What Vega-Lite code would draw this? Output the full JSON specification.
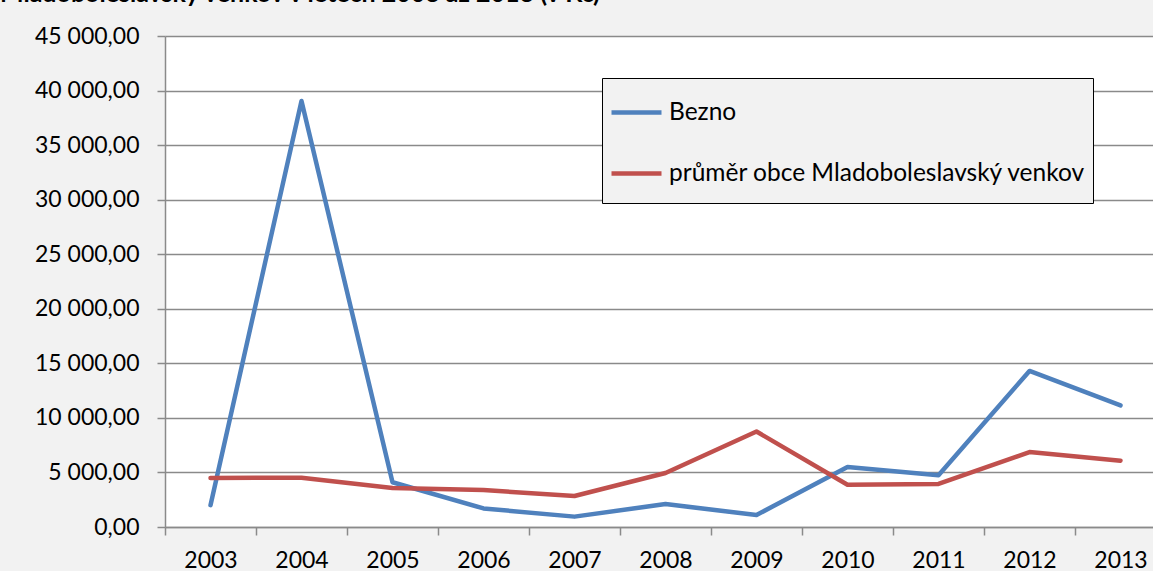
{
  "$schema": "https://vega.github.io/schema/vega-lite/v6.json",
  "autosize": {"type": "none"},
  "padding": {"left": 165, "top": 36, "right": 0, "bottom": 44},
  "width": 988,
  "height": 491,
  "background": "#f2f2f2",
  "title": {
    "text": "Mladoboleslavský venkov v letech 2003 až 2013 (v Kč)",
    "anchor": "start",
    "frame": "group",
    "orient": "top",
    "baseline": "alphabetic",
    "offset": 0,
    "dx": -165,
    "dy": 2,
    "font": "Lato",
    "fontSize": 25,
    "fontWeight": "bold",
    "color": "black"
  },
  "config": {
    "locale": {
      "number": {"decimal": ",", "thousands": " ", "grouping": [3], "currency": ["", " Kč"]}
    },
    "view": {"fill": "white", "stroke": null},
    "axis": {
      "labelFont": "Lato",
      "labelFontSize": 23,
      "labelColor": "black",
      "domainColor": "#8a8a8a",
      "domainWidth": 1.5,
      "tickColor": "#8a8a8a",
      "tickWidth": 1.5,
      "tickSize": 8,
      "gridColor": "#8a8a8a",
      "gridWidth": 1.5,
      "title": null
    }
  },
  "data": {
    "values": [
      {"year": "2003", "series": "Bezno", "value": 2000},
      {"year": "2004", "series": "Bezno", "value": 39050},
      {"year": "2005", "series": "Bezno", "value": 4100},
      {"year": "2006", "series": "Bezno", "value": 1700},
      {"year": "2007", "series": "Bezno", "value": 950},
      {"year": "2008", "series": "Bezno", "value": 2100},
      {"year": "2009", "series": "Bezno", "value": 1100},
      {"year": "2010", "series": "Bezno", "value": 5500},
      {"year": "2011", "series": "Bezno", "value": 4750},
      {"year": "2012", "series": "Bezno", "value": 14300},
      {"year": "2013", "series": "Bezno", "value": 11150},
      {"year": "2003", "series": "průměr obce Mladoboleslavský venkov", "value": 4500},
      {"year": "2004", "series": "průměr obce Mladoboleslavský venkov", "value": 4520},
      {"year": "2005", "series": "průměr obce Mladoboleslavský venkov", "value": 3570},
      {"year": "2006", "series": "průměr obce Mladoboleslavský venkov", "value": 3380},
      {"year": "2007", "series": "průměr obce Mladoboleslavský venkov", "value": 2840},
      {"year": "2008", "series": "průměr obce Mladoboleslavský venkov", "value": 4950},
      {"year": "2009", "series": "průměr obce Mladoboleslavský venkov", "value": 8750},
      {"year": "2010", "series": "průměr obce Mladoboleslavský venkov", "value": 3870},
      {"year": "2011", "series": "průměr obce Mladoboleslavský venkov", "value": 3950},
      {"year": "2012", "series": "průměr obce Mladoboleslavský venkov", "value": 6870},
      {"year": "2013", "series": "průměr obce Mladoboleslavský venkov", "value": 6080}
    ]
  },
  "mark": {"type": "line", "strokeWidth": 4.5, "strokeCap": "round", "strokeJoin": "round"},
  "encoding": {
    "x": {
      "field": "year",
      "type": "ordinal",
      "scale": {"type": "band", "paddingInner": 0, "paddingOuter": 0, "range": [0, 1001]},
      "axis": {"labelAngle": 0, "tickBand": "extent", "grid": false, "labelPadding": 14}
    },
    "y": {
      "field": "value",
      "type": "quantitative",
      "scale": {"domain": [0, 45000], "nice": false},
      "axis": {
        "values": [0, 5000, 10000, 15000, 20000, 25000, 30000, 35000, 40000, 45000],
        "format": ",.2f",
        "labelPadding": 18,
        "grid": true
      }
    },
    "color": {
      "field": "series",
      "type": "nominal",
      "scale": {"domain": ["Bezno", "průměr obce Mladoboleslavský venkov"], "range": ["#4f81bd", "#c0504d"]},
      "legend": {
        "orient": "none",
        "legendX": 437,
        "legendY": 42,
        "title": " ",
        "titleOrient": "bottom",
        "titleFontSize": 8,
        "titlePadding": 3,
        "fillColor": "#f2f2f2",
        "strokeColor": "black",
        "padding": 7,
        "symbolType": "stroke",
        "symbolSize": 2500,
        "symbolStrokeWidth": 4.5,
        "labelFont": "Lato",
        "labelFontSize": 24.5,
        "labelColor": "black",
        "labelOffset": 5,
        "rowPadding": 22,
        "labelLimit": 600
      }
    }
  }
}
